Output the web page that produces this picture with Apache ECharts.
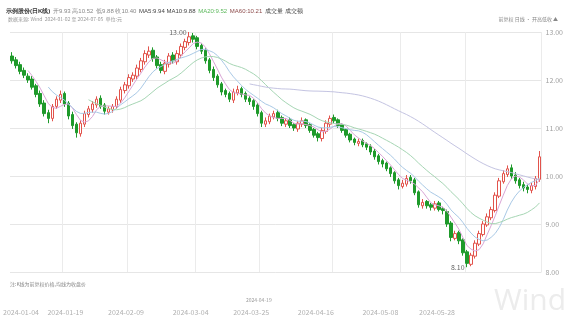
<!DOCTYPE html>
<html>
<head>
<meta charset="utf-8">
<script src="https://cdn.jsdelivr.net/npm/echarts@6/dist/echarts.min.js"></script>
<style>
html, body { margin: 0; padding: 0; background: #fff; }
#main { width: 566px; height: 316px; }
</style>
</head>
<body>
<div id="main"></div>
<script>
var opens = [12.50,12.42,12.32,12.20,12.08,12.02,11.88,11.72,11.52,11.32,11.20,11.45,11.58,11.72,11.52,11.28,11.08,10.88,11.08,11.28,
  11.38,11.48,11.62,11.48,11.33,11.38,11.45,11.58,11.78,11.88,12.02,12.08,12.22,12.38,12.52,12.62,12.48,12.32,12.18,12.33,
  12.52,12.38,12.52,12.68,12.78,12.92,12.88,12.72,12.62,12.42,12.22,12.08,11.92,11.78,11.72,11.58,11.73,11.82,11.72,11.62,
  11.57,11.48,11.32,11.08,11.13,11.23,11.32,11.22,11.08,11.17,11.07,10.98,11.08,11.17,11.07,10.97,10.88,10.78,10.93,11.08,
  11.22,11.17,11.07,10.97,10.87,10.77,10.68,10.74,10.67,10.62,10.52,10.42,10.32,10.27,10.17,10.07,9.92,9.78,9.83,9.97,
  9.92,9.67,9.38,9.47,9.40,9.33,9.44,9.32,9.26,9.02,8.70,8.82,8.67,8.42,8.16,8.33,8.58,8.78,8.98,9.13,
  9.28,9.58,9.88,10.03,10.17,10.02,9.92,9.82,9.77,9.70,9.78,9.93];
var closes = [12.40,12.30,12.18,12.10,12.00,11.85,11.70,11.50,11.30,11.20,11.45,11.60,11.70,11.50,11.25,11.05,10.90,11.10,11.30,11.40,
  11.50,11.60,11.45,11.35,11.40,11.45,11.60,11.80,11.90,12.05,12.10,12.25,12.40,12.55,12.60,12.45,12.30,12.20,12.35,12.50,
  12.40,12.55,12.70,12.80,12.90,12.85,12.70,12.60,12.40,12.20,12.05,11.90,11.75,11.70,11.60,11.75,11.80,11.70,11.60,11.55,
  11.45,11.30,11.10,11.15,11.25,11.30,11.20,11.10,11.15,11.05,11.00,11.10,11.15,11.05,10.95,10.85,10.80,10.95,11.10,11.20,
  11.15,11.05,10.95,10.85,10.75,10.70,10.72,10.65,10.60,10.50,10.40,10.30,10.25,10.15,10.05,9.90,9.80,9.85,9.95,9.90,
  9.65,9.40,9.45,9.38,9.35,9.42,9.30,9.28,9.00,8.72,8.80,8.65,8.40,8.18,8.35,8.60,8.80,9.00,9.15,9.30,
  9.60,9.90,10.05,10.15,10.00,9.90,9.80,9.75,9.72,9.80,9.95,10.40];
var lows = [12.34,12.24,12.12,12.04,11.94,11.80,11.64,11.44,11.24,11.10,11.14,11.40,11.52,11.44,11.18,10.98,10.80,10.82,11.02,11.22,
  11.32,11.42,11.40,11.28,11.28,11.32,11.40,11.52,11.72,11.82,11.96,12.02,12.16,12.32,12.46,12.38,12.24,12.14,12.12,12.26,
  12.34,12.32,12.46,12.62,12.72,12.78,12.64,12.54,12.34,12.14,11.98,11.84,11.68,11.64,11.54,11.52,11.68,11.64,11.54,11.48,
  11.38,11.24,11.02,11.02,11.08,11.18,11.14,11.04,11.02,11.00,10.94,10.92,11.02,11.00,10.90,10.80,10.72,10.72,10.88,11.02,
  11.10,11.00,10.90,10.80,10.70,10.64,10.62,10.60,10.54,10.44,10.34,10.24,10.18,10.10,9.98,9.84,9.72,9.74,9.78,9.84,
  9.60,9.34,9.32,9.32,9.28,9.28,9.26,9.20,8.94,8.64,8.66,8.58,8.34,8.10,8.12,8.28,8.54,8.74,8.94,9.08,
  9.24,9.54,9.84,9.98,9.94,9.84,9.74,9.68,9.64,9.64,9.72,9.88];
var highs = [12.58,12.48,12.38,12.26,12.14,12.08,11.92,11.78,11.58,11.38,11.50,11.66,11.78,11.76,11.56,11.34,11.12,11.16,11.36,11.46,
  11.56,11.66,11.68,11.52,11.45,11.50,11.66,11.86,11.96,12.12,12.16,12.32,12.46,12.62,12.70,12.68,12.52,12.38,12.42,12.56,
  12.58,12.62,12.76,12.86,13.00,12.98,12.92,12.76,12.66,12.46,12.28,12.12,11.96,11.82,11.76,11.82,11.88,11.86,11.76,11.66,
  11.60,11.52,11.36,11.22,11.30,11.36,11.38,11.26,11.20,11.22,11.10,11.15,11.22,11.20,11.10,11.00,10.92,11.00,11.16,11.26,
  11.28,11.20,11.10,11.00,10.90,10.80,10.78,10.78,10.70,10.66,10.56,10.46,10.36,10.30,10.20,10.10,9.96,9.92,10.02,10.02,
  9.96,9.70,9.52,9.50,9.44,9.48,9.48,9.36,9.30,9.06,8.86,8.86,8.70,8.46,8.40,8.66,8.86,9.06,9.22,9.36,
  9.66,9.96,10.12,10.22,10.24,10.08,9.96,9.88,9.82,9.86,10.00,10.52];

// trading days for the category axis
var dates = [];
var d = new Date(2024, 0, 2);
while (dates.length < closes.length) {
  if (d.getDay() !== 0 && d.getDay() !== 6) {
    dates.push(d.getFullYear() + '-' + ('0' + (d.getMonth() + 1)).slice(-2) + '-' + ('0' + d.getDate()).slice(-2));
  }
  d.setDate(d.getDate() + 1);
}

var gridLineIdx = [13, 29, 46, 62, 80, 97, 113];
var navLabelIdx = [2, 13, 28, 44, 59, 75, 91, 105];

var candles = opens.map(function (o, i) { return [o, closes[i], lows[i], highs[i]]; });

function movingAvg(n) {
  return closes.map(function (c, i) {
    if (i < n - 1) { return '-'; }
    var s = 0;
    for (var k = i - n + 1; k <= i; k++) { s += closes[k]; }
    return +(s / n).toFixed(3);
  });
}

var font = '"Noto Sans CJK SC", "Noto Sans", sans-serif';
var myChart = echarts.init(document.getElementById('main'));

myChart.setOption({
  animation: false,
  backgroundColor: '#fff',
  textStyle: { fontFamily: font },
  grid: [
    { left: 10, right: 22, top: 32, bottom: 44 },
    { left: 10, right: 22, top: 300, height: 6 }
  ],
  xAxis: [{
    type: 'category',
    data: dates,
    gridIndex: 0,
    boundaryGap: true,
    axisLine: { show: false },
    axisTick: { show: false },
    axisLabel: { show: false },
    splitLine: {
      show: true,
      interval: function (i) { return gridLineIdx.indexOf(i) >= 0; },
      lineStyle: { color: '#ebebeb', width: 1 }
    }
  }, {
    type: 'category',
    data: dates,
    gridIndex: 1,
    axisLine: { show: false },
    axisTick: { show: false },
    splitLine: { show: false },
    axisLabel: {
      interval: function (i) { return navLabelIdx.indexOf(i) >= 0; },
      fontSize: 7, color: '#b0b0b0', margin: 6
    }
  }],
  yAxis: [{
    type: 'value',
    position: 'right',
    gridIndex: 0,
    min: 8, max: 13, interval: 1,
    axisLine: { show: false },
    axisTick: { show: false },
    axisLabel: {
      fontSize: 7, color: '#a0a0a0', margin: 4,
      formatter: function (v) { return v.toFixed(2); }
    },
    splitLine: { lineStyle: { color: '#e6e6e6', width: 1 } }
  }, {
    type: 'value', gridIndex: 1, show: false
  }],
  series: [{
    name: 'K',
    type: 'candlestick',
    data: candles,
    barWidth: 3,
    itemStyle: {
      color: '#ffffff',
      borderColor: '#e2534c',
      color0: '#1e9a2a',
      borderColor0: '#1e9a2a',
      borderWidth: 1
    },
    markPoint: {
      symbol: 'rect',
      symbolSize: 1,
      itemStyle: { color: 'transparent' },
      data: [
        { type: 'max', valueDim: 'highest', label: { position: 'left', distance: 2 } },
        { type: 'min', valueDim: 'lowest', label: { position: 'left', distance: 2 } }
      ],
      label: {
        fontSize: 7, color: '#666',
        formatter: function (p) { return p.value.toFixed(2); }
      }
    }
  }, {
    name: 'MA5', type: 'line', data: movingAvg(5), symbol: 'none',
    lineStyle: { color: '#d9a6d6', width: 1 }
  }, {
    name: 'MA10', type: 'line', data: movingAvg(10), symbol: 'none',
    lineStyle: { color: '#a9c9e6', width: 1 }
  }, {
    name: 'MA20', type: 'line', data: movingAvg(20), symbol: 'none',
    lineStyle: { color: '#a6d6b4', width: 1 }
  }, {
    name: 'MA60', type: 'line', data: movingAvg(60), symbol: 'none',
    lineStyle: { color: '#c4c4e2', width: 1 }
  }, {
    name: 'nav', type: 'line', xAxisIndex: 1, yAxisIndex: 1,
    data: closes, symbol: 'none', lineStyle: { opacity: 0 }
  }],
  graphic: [
    {
      type: 'text', left: 6, top: 8,
      style: {
        text: '{a|示例股份(日K线)}  {b|开9.93 高10.52}  {b|低9.88 收10.40}  {c|MA5:9.94 MA10:9.88}  {g|MA20:9.52}  {r|MA60:10.21}  {c|成交量 成交额}',
        font: '6px ' + font,
        rich: {
          a: { fontSize: 6, fontWeight: 'bold', fill: '#333' },
          b: { fontSize: 6, fill: '#888' },
          c: { fontSize: 6, fill: '#444' },
          g: { fontSize: 6, fill: '#5cb85c' },
          r: { fontSize: 6, fill: '#8c4a4a' }
        }
      }
    },
    { type: 'text', left: 8, top: 17, style: { text: '数据来源: Wind  2024-01-02 至 2024-07-05  单位:元', font: '5px ' + font, fill: '#999' } },
    { type: 'text', right: 8, top: 17, style: { text: '前复权 日线 · 开高低收 ▲', font: '5px ' + font, fill: '#888' } },
    { type: 'text', left: 10, top: 282, style: { text: '注:K线为前复权价格,均线为收盘价', font: '5px ' + font, fill: '#888' } },
    { type: 'text', left: 246, top: 298, style: { text: '2024-04-19', font: '5px ' + font, fill: '#999' } },
    { type: 'text', right: 0, top: 286, style: { text: 'Wind', font: '30px "Open Sans", sans-serif', fill: '#ececec' } }
  ]
});
</script>
</body>
</html>
